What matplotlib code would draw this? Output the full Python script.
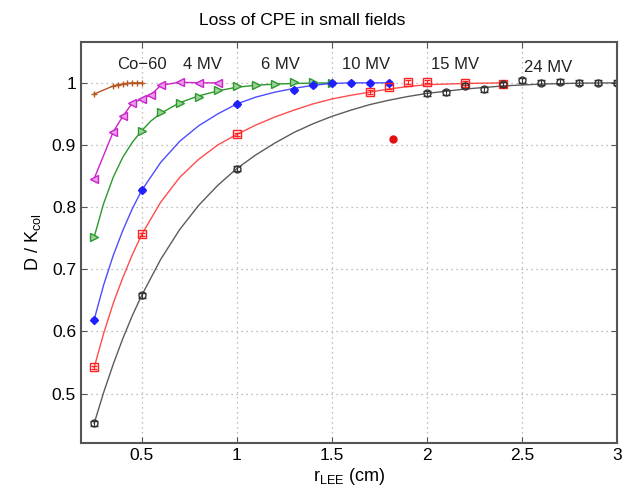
import matplotlib
matplotlib.use('Agg')
import matplotlib.pyplot as plt

plt.rcParams['font.family'] = ['Liberation Sans', 'DejaVu Sans']

# Measured points (r_LEE in cm, D/Kcol)
co60_x = [0.25, 0.35, 0.375, 0.40, 0.425, 0.45, 0.475, 0.50]
co60_y = [0.982, 0.995, 0.997, 0.998, 0.999, 1.000, 1.000, 1.000]

mv4_x = [0.25, 0.35, 0.40, 0.45, 0.50, 0.55, 0.60, 0.70, 0.80, 0.90]
mv4_y = [0.846, 0.921, 0.946, 0.967, 0.974, 0.981, 0.996, 1.001, 1.000, 1.000]

mv6_x = [0.25, 0.50, 0.60, 0.70, 0.80, 0.90, 1.00, 1.10, 1.20, 1.30, 1.40, 1.50]
mv6_y = [0.752, 0.923, 0.953, 0.968, 0.978, 0.988, 0.995, 0.997, 0.998, 1.001, 1.002, 1.000]

mv10_x = [0.25, 0.50, 1.00, 1.30, 1.40, 1.50, 1.60, 1.70, 1.80]
mv10_y = [0.619, 0.827, 0.966, 0.988, 0.996, 1.000, 1.000, 1.000, 1.000]

mv15_x = [0.25, 0.50, 1.00, 1.70, 1.80, 1.90, 2.00, 2.20, 2.40]
mv15_y = [0.542, 0.756, 0.917, 0.985, 0.993, 1.001, 1.002, 1.000, 0.998]

mv24_x = [0.25, 0.50, 1.00, 2.00, 2.10, 2.20, 2.30, 2.40, 2.50, 2.60, 2.70, 2.80, 2.90, 3.00]
mv24_y = [0.452, 0.658, 0.862, 0.983, 0.985, 0.995, 0.990, 0.998, 1.004, 1.000, 1.002, 1.000, 1.000, 1.000]

# Fitted curves
fit6_x = [0.25, 0.30, 0.35, 0.40, 0.45, 0.50, 0.55, 0.60, 0.70, 0.80, 0.90, 1.00, 1.10, 1.20, 1.30, 1.50]
fit6_y = [0.752, 0.806, 0.848, 0.880, 0.904, 0.923, 0.939, 0.951, 0.968, 0.979, 0.987, 0.993, 0.996, 0.998, 0.999, 1.000]

fit10_x = [0.25, 0.30, 0.35, 0.40, 0.45, 0.50, 0.60, 0.70, 0.80, 0.90, 1.00, 1.10, 1.20, 1.30, 1.40, 1.50, 1.60, 1.80]
fit10_y = [0.619, 0.675, 0.722, 0.762, 0.797, 0.827, 0.872, 0.906, 0.931, 0.950, 0.966, 0.977, 0.985, 0.991, 0.996, 0.999, 1.000, 1.000]

fit15_x = [0.25, 0.30, 0.35, 0.40, 0.45, 0.50, 0.60, 0.70, 0.80, 0.90, 1.00, 1.10, 1.20, 1.30, 1.40,
           1.50, 1.60, 1.70, 1.80, 1.90, 2.00, 2.20, 2.40]
fit15_y = [0.542, 0.597, 0.645, 0.686, 0.723, 0.756, 0.808, 0.848, 0.877, 0.900, 0.917, 0.932, 0.945, 0.956, 0.966,
           0.974, 0.980, 0.985, 0.990, 0.994, 0.997, 0.999, 1.000]

fit24_x = [0.25, 0.30, 0.35, 0.40, 0.45, 0.50, 0.60, 0.70, 0.80, 0.90, 1.00, 1.10, 1.20, 1.30, 1.40, 1.50,
           1.60, 1.70, 1.80, 1.90, 2.00, 2.20, 2.40, 2.60, 2.80, 3.00]
fit24_y = [0.452, 0.502, 0.547, 0.588, 0.625, 0.658, 0.716, 0.764, 0.803, 0.835, 0.862, 0.884, 0.903, 0.920, 0.934, 0.946,
           0.956, 0.965, 0.972, 0.978, 0.983, 0.990, 0.995, 0.998, 0.9995, 1.000]

# single red point
extra_x = [1.82]
extra_y = [0.909]

labels = ['Co\u221260', '4 MV', '6 MV', '10 MV', '15 MV', '24 MV']
label_x = [0.50, 0.82, 1.23, 1.68, 2.15, 2.64]
label_y = [1.030, 1.030, 1.030, 1.030, 1.030, 1.025]

brown = '#b5561f'
magenta = '#cc22cc'
green = '#2a9a2a'
blue = '#2020ff'
red = '#ff2020'
black = '#333333'

fig = plt.figure(figsize=(6.27, 4.98), dpi=100)
ax = fig.add_axes([0.129, 0.110, 0.855, 0.806])

ax.plot(co60_x, co60_y, color=brown, lw=1, marker='+', ms=5, mew=1)
ax.plot(mv4_x, mv4_y, color=magenta, lw=1, marker='<', ms=6, mfc='#e8a0e8', mec=magenta)
ax.plot(fit6_x, fit6_y, color=green, lw=1)
ax.plot(mv6_x, mv6_y, ls='none', marker='>', ms=6, mfc='#a0d0a0', mec=green)
ax.plot(fit10_x, fit10_y, color=blue, lw=1, alpha=0.8)
ax.errorbar(mv10_x, mv10_y, yerr=0.003, fmt='D', ms=4, color=blue, capsize=2, elinewidth=0.8)
ax.plot(fit15_x, fit15_y, color=red, lw=1, alpha=0.8)
ax.errorbar(mv15_x, mv15_y, yerr=0.003, fmt='s', ms=6, mfc='none', mec=red, ecolor=red, capsize=2, elinewidth=0.8)
ax.plot(fit24_x, fit24_y, color=black, lw=1, alpha=0.8)
ax.errorbar(mv24_x, mv24_y, yerr=0.004, fmt='o', ms=5, mfc='none', mec=black, ecolor=black, capsize=3, elinewidth=0.8)
ax.plot(extra_x, extra_y, ls='none', marker='o', ms=5, color='#e01010')

for t, x, y in zip(labels, label_x, label_y):
    ax.text(x, y, t, ha='center', va='center', fontsize=12, color='#222222')

ax.set_xlim(0.18, 3.0)
ax.set_ylim(0.42, 1.066)
ax.set_xticks([0.5, 1, 1.5, 2, 2.5, 3])
ax.set_xticklabels(['0.5', '1', '1.5', '2', '2.5', '3'])
ax.set_yticks([0.5, 0.6, 0.7, 0.8, 0.9, 1])
ax.set_yticklabels(['0.5', '0.6', '0.7', '0.8', '0.9', '1'])
ax.tick_params(direction='in', top=True, right=True, labelsize=12.5, length=4, color='#555555')
ax.grid(True, ls=(0, (1, 3)), color='#aaaaaa', lw=0.9)
for s in ax.spines.values():
    s.set_color('#555555')
    s.set_linewidth(1.5)

ax.set_xlabel('r$_{\\mathregular{LEE}}$ (cm)', fontsize=13, labelpad=2)
ax.set_ylabel('D / K$_{\\mathregular{col}}$', fontsize=13, labelpad=6)
fig.text(0.482, 0.958, 'Loss of CPE in small fields', ha='center', va='center', fontsize=12.5)

fig.savefig('out.png', dpi=100)
